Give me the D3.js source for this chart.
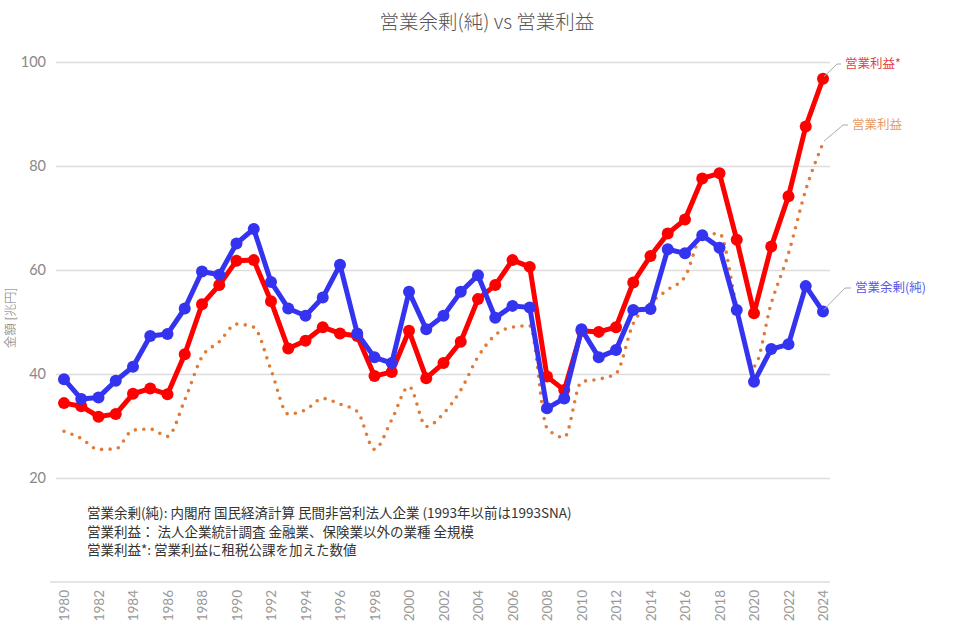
<!DOCTYPE html>
<html>
<head>
<meta charset="utf-8">
<script src="https://cdn.jsdelivr.net/npm/d3@7"></script>
<style>
  body { margin: 0; background: #fff; }
  text { font-family: "Noto Sans CJK JP", "Noto Sans", sans-serif; }
</style>
</head>
<body>
<div id="chart"></div>
<script>
// 年
var years = d3.range(1980, 2025);

// 営業余剰(純)
var surplus = [39.0, 35.2, 35.5, 38.7, 41.4, 47.3, 47.7, 52.6, 59.7, 59.1,
  65.1, 67.9, 57.7, 52.6, 51.2, 54.7, 61.0, 47.8, 43.2, 42.1,
  55.8, 48.6, 51.2, 55.8, 59.0, 50.8, 53.1, 52.8, 33.4, 35.3,
  48.6, 43.2, 44.6, 52.3, 52.5, 64.0, 63.2, 66.7, 64.3, 52.3,
  38.5, 44.8, 45.7, 56.9, 52.0];

// 営業利益*
var profitTax = [34.4, 33.8, 31.8, 32.3, 36.2, 37.2, 36.1, 43.8, 53.4, 57.1,
  61.8, 61.9, 54.0, 44.9, 46.4, 49.0, 47.8, 47.3, 39.6, 40.4,
  48.3, 39.2, 42.1, 46.2, 54.4, 57.1, 61.9, 60.6, 39.5, 36.9,
  48.3, 48.1, 49.0, 57.6, 62.7, 67.0, 69.7, 77.6, 78.6, 65.8,
  51.7, 64.5, 74.2, 87.6, 96.8];

// 営業利益
var profit = [29.0, 27.6, 25.5, 25.6, 29.2, 29.4, 28.0, 35.0, 43.3, 46.2,
  49.6, 49.0, 40.8, 32.3, 33.1, 35.3, 34.2, 32.8, 25.5, 31.2,
  37.6, 29.9, 32.4, 36.9, 43.3, 47.5, 49.0, 49.3, 29.6, 27.8,
  38.5, 39.0, 40.1, 49.7, 53.6, 56.2, 58.7, 66.6, 67.0, 52.9,
  41.5, 53.6, 63.2, 75.4, 84.4];

var yTicks = [20, 40, 60, 80, 100];
var xTicks = d3.range(1980, 2025, 2);

var notes = [
  "営業余剰(純): 内閣府 国民経済計算 民間非営利法人企業 (1993年以前は1993SNA)",
  "営業利益：  法人企業統計調査 金融業、保険業以外の業種 全規模",
  "営業利益*: 営業利益に租税公課を加えた数値"
];

var width = 975, height = 636;
var svg = d3.select("#chart").append("svg")
  .attr("width", width)
  .attr("height", height);

var x = d3.scaleLinear().domain([1980, 2024]).range([64, 823]);
var y = d3.scaleLinear().domain([0, 100]).range([582, 62]);

// タイトル
svg.append("text")
  .attr("x", 487).attr("y", 29)
  .attr("text-anchor", "middle")
  .attr("font-size", 19.5)
  .attr("font-weight", 300)
  .attr("fill", "#555")
  .text("営業余剰(純) vs 営業利益");

// y軸ラベル
svg.append("text")
  .attr("transform", "translate(15,318) rotate(-90)")
  .attr("text-anchor", "middle")
  .attr("font-size", 12.5)
  .attr("font-weight", 300)
  .attr("fill", "#777")
  .text("金額 [兆円]");

// グリッド
var yAxis = d3.axisLeft(y).tickValues(yTicks).tickSize(-(830 - 56)).tickPadding(10);
var gy = svg.append("g").attr("transform", "translate(56,0)").call(yAxis);
gy.select(".domain").remove();
gy.selectAll(".tick line").attr("stroke", "#ddd").attr("stroke-width", 1.5);
gy.selectAll(".tick text").attr("fill", "#888").attr("font-size", 14.5)
  .style("font-family", "Lato, 'Noto Sans', sans-serif");

// x軸
var xAxis = d3.axisBottom(x).tickValues(xTicks).tickFormat(d3.format("d")).tickSize(0).tickPadding(0);
var gx = svg.append("g").attr("transform", "translate(0,582)").call(xAxis);
gx.select(".domain").attr("d", "M50,0H830")
  .attr("stroke", "#ddd").attr("stroke-width", 1.5);
gx.selectAll(".tick text")
  .attr("transform", "translate(0,8) rotate(-90)")
  .attr("text-anchor", "end")
  .attr("dy", "0.35em")
  .attr("y", 0)
  .attr("fill", "#999")
  .attr("font-size", 13.5)
  .style("font-family", "Lato, 'Noto Sans', sans-serif");

// 注記
svg.selectAll(".note")
  .data(notes)
  .enter()
  .append("text")
  .attr("class", "note")
  .attr("x", 87)
  .attr("y", function(d, i) { return 518 + i * 18.5; })
  .attr("font-size", 13.5)
  .attr("fill", "#333")
  .text(function(d) { return d; });

// 線
var line = d3.line()
  .x(function(d, i) { return x(years[i]); })
  .y(function(d) { return y(d); });

svg.append("path")
  .datum(profit)
  .attr("d", line.curve(d3.curveMonotoneX))
  .attr("fill", "none")
  .attr("stroke", "#e07b39")
  .attr("stroke-width", 3.6)
  .attr("stroke-linecap", "round")
  .attr("stroke-dasharray", "0 8.5");

line.curve(d3.curveLinear);

function drawSeries(data, color) {
  svg.append("path")
    .datum(data)
    .attr("d", line)
    .attr("fill", "none")
    .attr("stroke", color)
    .attr("stroke-width", 5)
    .attr("stroke-linejoin", "round");
  svg.append("g")
    .selectAll("circle")
    .data(data)
    .enter()
    .append("circle")
    .attr("cx", function(d, i) { return x(years[i]); })
    .attr("cy", function(d) { return y(d); })
    .attr("r", 6)
    .attr("fill", color);
}

drawSeries(profitTax, "#ff0000");
drawSeries(surplus, "#3434f0");

// ラベル
var labels = [
  { name: "営業利益*", data: profitTax, color: "#e8403c", lx: 837, ly: 64, tx: 845 },
  { name: "営業利益", data: profit, color: "#e89a68", lx: 843, ly: 125, tx: 852 },
  { name: "営業余剰(純)", data: surplus, color: "#5858e8", lx: 845, ly: 288, tx: 855 }
];

labels.forEach(function(l) {
  var last = l.data[l.data.length - 1];
  var px = x(2024), py = y(last);
  svg.append("path")
    .attr("d", "M" + (px + 1) + "," + (py - 2) + "L" + l.lx + "," + l.ly + "H" + (l.tx - 4))
    .attr("fill", "none")
    .attr("stroke", "#aaa")
    .attr("stroke-width", 1);
  svg.append("text")
    .attr("x", l.tx)
    .attr("y", l.ly)
    .attr("dy", "0.35em")
    .attr("font-size", 12.5)
    .attr("fill", l.color)
    .text(l.name);
});
</script>
</body>
</html>
